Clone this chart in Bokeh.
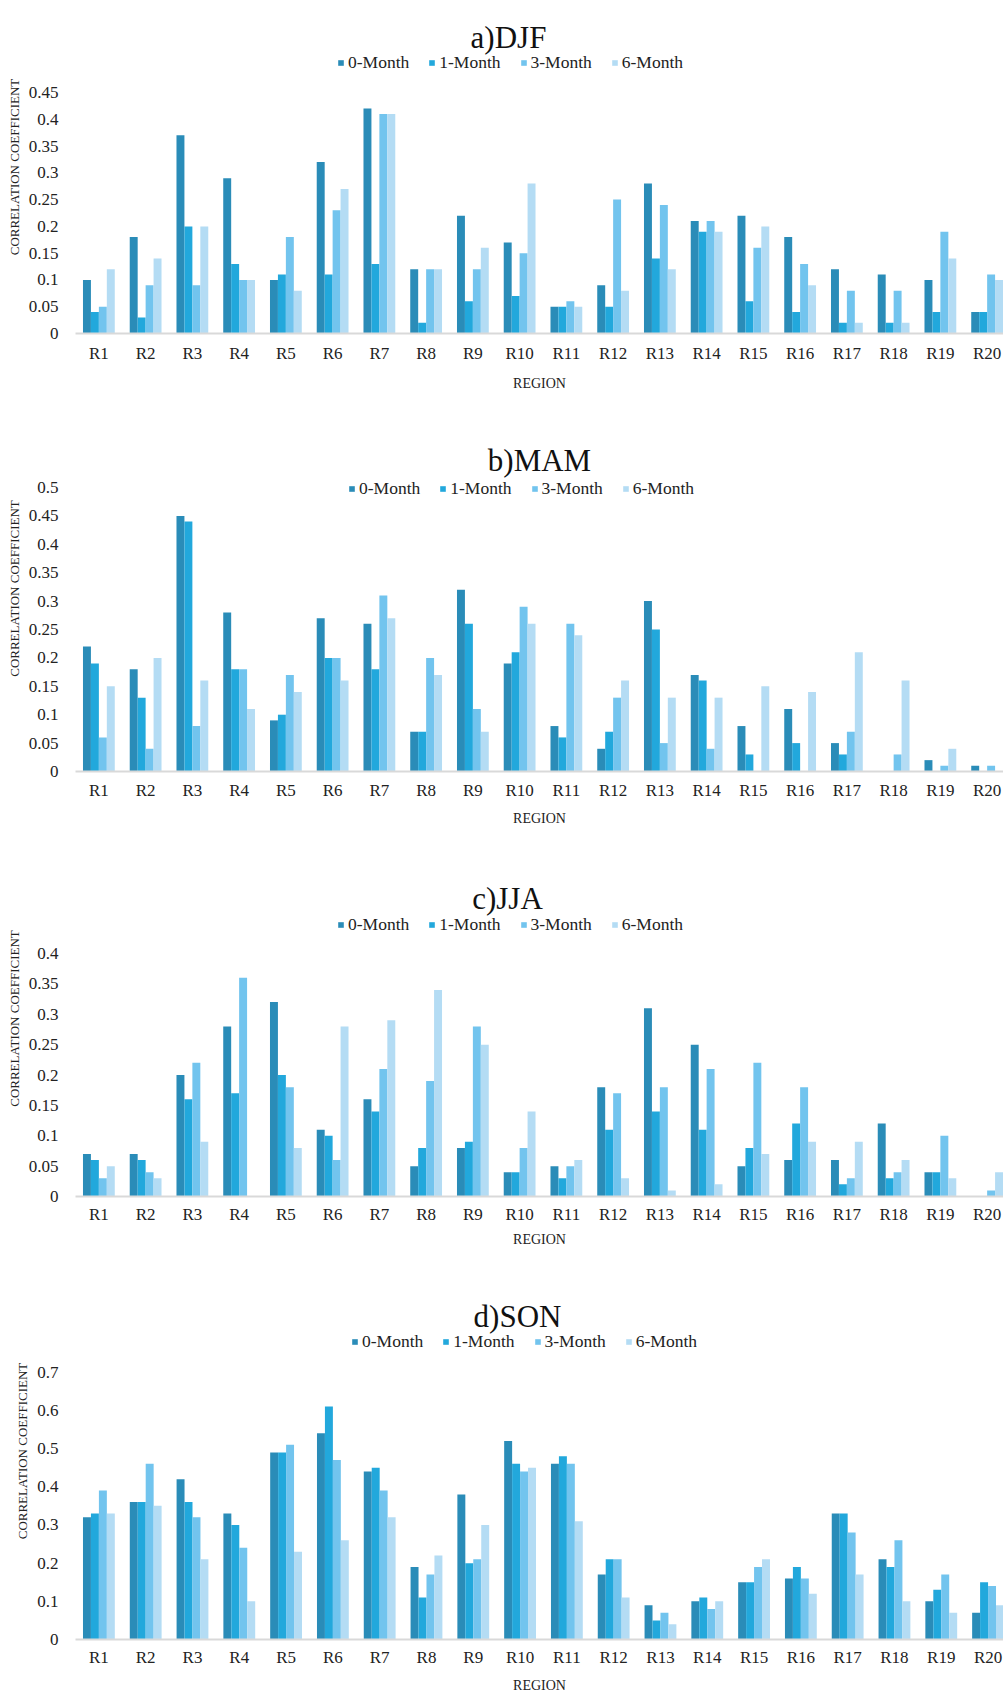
from bokeh.plotting import figure
from bokeh.models import (ColumnDataSource, Range1d, FixedTicker, Label, Legend, LegendItem)
from bokeh.layouts import column
from bokeh.embed import file_html
from bokeh.resources import INLINE

regions = ["R%d" % i for i in range(1, 21)]
series = ["0-Month", "1-Month", "3-Month", "6-Month"]
colors = ["#2a8cb8", "#22a8dc", "#72c4ee", "#b4dcf4"]

djf_0 = [0.10, 0.18, 0.37, 0.29, 0.10, 0.32, 0.42, 0.12, 0.22, 0.17, 0.05, 0.09, 0.28, 0.21, 0.22, 0.18, 0.12, 0.11, 0.10, 0.04]
djf_1 = [0.04, 0.03, 0.20, 0.13, 0.11, 0.11, 0.13, 0.02, 0.06, 0.07, 0.05, 0.05, 0.14, 0.19, 0.06, 0.04, 0.02, 0.02, 0.04, 0.04]
djf_3 = [0.05, 0.09, 0.09, 0.10, 0.18, 0.23, 0.41, 0.12, 0.12, 0.15, 0.06, 0.25, 0.24, 0.21, 0.16, 0.13, 0.08, 0.08, 0.19, 0.11]
djf_6 = [0.12, 0.14, 0.20, 0.10, 0.08, 0.27, 0.41, 0.12, 0.16, 0.28, 0.05, 0.08, 0.12, 0.19, 0.20, 0.09, 0.02, 0.02, 0.14, 0.10]

mam_0 = [0.22, 0.18, 0.45, 0.28, 0.09, 0.27, 0.26, 0.07, 0.32, 0.19, 0.08, 0.04, 0.30, 0.17, 0.08, 0.11, 0.05, 0.00, 0.02, 0.01]
mam_1 = [0.19, 0.13, 0.44, 0.18, 0.10, 0.20, 0.18, 0.07, 0.26, 0.21, 0.06, 0.07, 0.25, 0.16, 0.03, 0.05, 0.03, 0.00, 0.00, 0.00]
mam_3 = [0.06, 0.04, 0.08, 0.18, 0.17, 0.20, 0.31, 0.20, 0.11, 0.29, 0.26, 0.13, 0.05, 0.04, 0.00, 0.00, 0.07, 0.03, 0.01, 0.01]
mam_6 = [0.15, 0.20, 0.16, 0.11, 0.14, 0.16, 0.27, 0.17, 0.07, 0.26, 0.24, 0.16, 0.13, 0.13, 0.15, 0.14, 0.21, 0.16, 0.04, 0.00]

jja_0 = [0.07, 0.07, 0.20, 0.28, 0.32, 0.11, 0.16, 0.05, 0.08, 0.04, 0.05, 0.18, 0.31, 0.25, 0.05, 0.06, 0.06, 0.12, 0.04, 0.00]
jja_1 = [0.06, 0.06, 0.16, 0.17, 0.20, 0.10, 0.14, 0.08, 0.09, 0.04, 0.03, 0.11, 0.14, 0.11, 0.08, 0.12, 0.02, 0.03, 0.04, 0.00]
jja_3 = [0.03, 0.04, 0.22, 0.36, 0.18, 0.06, 0.21, 0.19, 0.28, 0.08, 0.05, 0.17, 0.18, 0.21, 0.22, 0.18, 0.03, 0.04, 0.10, 0.01]
jja_6 = [0.05, 0.03, 0.09, 0.00, 0.08, 0.28, 0.29, 0.34, 0.25, 0.14, 0.06, 0.03, 0.01, 0.02, 0.07, 0.09, 0.09, 0.06, 0.03, 0.04]

son_0 = [0.32, 0.36, 0.42, 0.33, 0.49, 0.54, 0.44, 0.19, 0.38, 0.52, 0.46, 0.17, 0.09, 0.10, 0.15, 0.16, 0.33, 0.21, 0.10, 0.07]
son_1 = [0.33, 0.36, 0.36, 0.30, 0.49, 0.61, 0.45, 0.11, 0.20, 0.46, 0.48, 0.21, 0.05, 0.11, 0.15, 0.19, 0.33, 0.19, 0.13, 0.15]
son_3 = [0.39, 0.46, 0.32, 0.24, 0.51, 0.47, 0.39, 0.17, 0.21, 0.44, 0.46, 0.21, 0.07, 0.08, 0.19, 0.16, 0.28, 0.26, 0.17, 0.14]
son_6 = [0.33, 0.35, 0.21, 0.10, 0.23, 0.26, 0.32, 0.22, 0.30, 0.45, 0.31, 0.11, 0.04, 0.10, 0.21, 0.12, 0.17, 0.10, 0.07, 0.09]

djf_ticks = [0, 0.05, 0.1, 0.15, 0.2, 0.25, 0.3, 0.35, 0.4, 0.45]
mam_ticks = [0, 0.05, 0.1, 0.15, 0.2, 0.25, 0.3, 0.35, 0.4, 0.45, 0.5]
jja_ticks = [0, 0.05, 0.1, 0.15, 0.2, 0.25, 0.3, 0.35, 0.4]
son_ticks = [0, 0.1, 0.2, 0.3, 0.4, 0.5, 0.6, 0.7]

FONT = "Liberation Serif"
offsets = [-0.255, -0.085, 0.085, 0.255]
BAR_W = 0.17
W = 1003


def fmt(v):
    s = ("%.2f" % v).rstrip("0").rstrip(".")
    return s if s else "0"


def panel(title, vals, ticks, height, frame_left, top_px, zero_px,
          title_cx, title_cy, legend_left, legend_cy,
          label_standoff, axlabel_standoff, x_end):
    y_end = ticks[-1] * zero_px / (zero_px - top_px)
    p = figure(width=W, height=height, output_backend="svg", toolbar_location=None,
               x_range=Range1d(0.5, x_end), y_range=Range1d(0, y_end),
               min_border_left=frame_left, min_border_right=0, min_border_top=0,
               min_border_bottom=height - zero_px)
    p.outline_line_color = None
    p.grid.grid_line_color = None
    p.background_fill_color = "white"
    p.border_fill_color = "white"

    x = list(range(1, len(regions) + 1))
    renderers = []
    for k in range(4):
        src = ColumnDataSource(dict(x=[xi + offsets[k] for xi in x], top=vals[k]))
        r = p.vbar(x="x", top="top", width=BAR_W, source=src,
                   fill_color=colors[k], line_color=None)
        renderers.append(r)

    xa = p.xaxis[0]
    xa.ticker = FixedTicker(ticks=x)
    xa.major_label_overrides = {i + 1: regions[i] for i in range(len(regions))}
    xa.axis_line_color = "#d9d9d9"
    xa.axis_line_width = 2
    xa.major_tick_line_color = None
    xa.minor_tick_line_color = None
    xa.major_label_text_font = FONT
    xa.major_label_text_font_size = "17px"
    xa.major_label_text_color = "#222222"
    xa.major_label_standoff = label_standoff
    xa.axis_label = "REGION"
    xa.axis_label_text_font = FONT
    xa.axis_label_text_font_size = "14px"
    xa.axis_label_text_font_style = "normal"
    xa.axis_label_text_color = "#222222"
    xa.axis_label_standoff = axlabel_standoff

    ya = p.yaxis[0]
    ya.ticker = FixedTicker(ticks=ticks)
    ya.major_label_overrides = {t: fmt(t) for t in ticks}
    ya.axis_line_color = None
    ya.major_tick_line_color = None
    ya.minor_tick_line_color = None
    ya.major_label_text_font = FONT
    ya.major_label_text_font_size = "17px"
    ya.major_label_text_color = "#222222"
    ya.major_label_standoff = 11
    ya.axis_label = "CORRELATION COEFFICIENT"
    ya.axis_label_text_font = FONT
    ya.axis_label_text_font_size = "13px"
    ya.axis_label_text_font_style = "normal"
    ya.axis_label_text_color = "#222222"
    ya.axis_label_standoff = 4

    p.add_layout(Label(x=title_cx - frame_left, y=zero_px - (title_cy + 10),
                       x_units="screen", y_units="screen", text=title,
                       text_font=FONT, text_font_size="31px", text_color="#111111",
                       text_align="center", text_baseline="alphabetic"))

    items = [LegendItem(label=series[k], renderers=[renderers[k]]) for k in range(4)]
    leg = Legend(items=items, orientation="horizontal",
                 location=(legend_left - frame_left, zero_px - (legend_cy + 10)),
                 glyph_width=7, glyph_height=7, label_standoff=4, spacing=19,
                 label_text_font=FONT, label_text_font_size="17.5px",
                 label_text_color="#222222", label_height=20,
                 padding=0, margin=0, border_line_color=None,
                 background_fill_alpha=0)
    p.add_layout(leg, "center")
    return p


pa = panel("a)DJF", [djf_0, djf_1, djf_3, djf_6], djf_ticks, 405, 75, 92, 333,
           508, 27, 337, 63, 4, 10, 20.35)
pb = panel("b)MAM", [mam_0, mam_1, mam_3, mam_6], mam_ticks, 435, 75, 82, 366,
           539, 45, 348, 84, 3, 8, 20.35)
pc = panel("c)JJA", [jja_0, jja_1, jja_3, jja_6], jja_ticks, 422, 75, 113, 356,
           507, 48, 337, 85, 2, 5, 20.35)
pd = panel("d)SON", [son_0, son_1, son_3, son_6], son_ticks, 433, 67, 110, 378,
           509, 45, 343, 81, 2, 8, 20.33)

layout = column(pa, pb, pc, pd, spacing=0)
open("out.html", "w").write(file_html(layout, INLINE))
